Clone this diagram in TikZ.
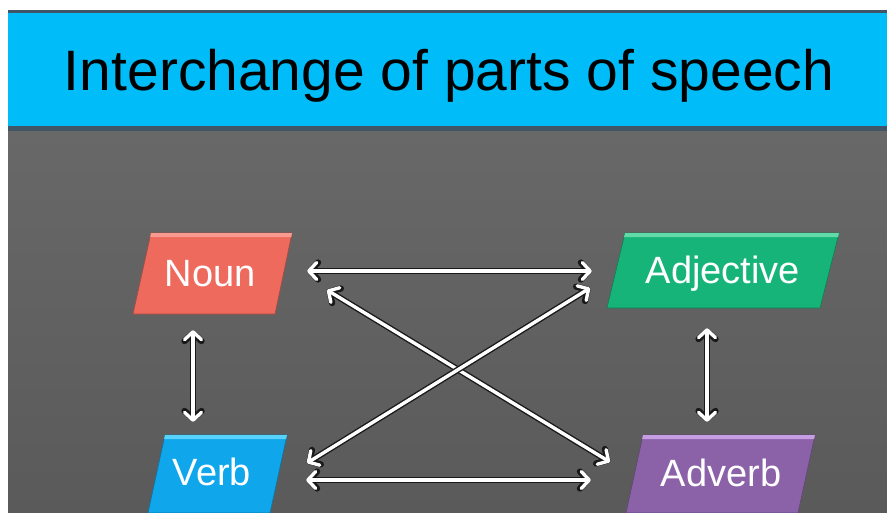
\documentclass[tikz,border=0pt]{standalone}
\usepackage{fontspec}
\setmainfont{Liberation Sans}
\usetikzlibrary{arrows.meta}
\definecolor{bandc}{HTML}{00BCF8}
\definecolor{bandedge}{HTML}{3E5666}
\definecolor{graytop}{HTML}{686868}
\definecolor{graybot}{HTML}{5A5A5A}
\definecolor{nounc}{HTML}{EE6A5D}
\definecolor{nounl}{HTML}{F89A90}
\definecolor{adjc}{HTML}{17B47A}
\definecolor{adjl}{HTML}{62DAA8}
\definecolor{verbc}{HTML}{10A6EC}
\definecolor{verbl}{HTML}{58D2F8}
\definecolor{advc}{HTML}{8B62A8}
\definecolor{advl}{HTML}{C59DE2}
\begin{document}
\begin{tikzpicture}[x=1pt,y=-1pt,
  tipb/.tip={Straight Barb[length=8pt,width=17pt,round]},
  arr/.style={draw=white, line width=3.4pt, tipb-tipb,
    preaction={draw=black!90, line width=6.2pt}},
  lbl/.style={text=white, font=\fontsize{38}{38}\selectfont, anchor=base, inner sep=0pt},
  ttl/.style={text=black, font=\fontsize{57}{57}\selectfont, anchor=base, inner sep=0pt}]
\useasboundingbox (0,0) rectangle (887,512);
\fill[white] (0,0) rectangle (887,512);
% background
\shade[top color=graytop, bottom color=graybot] (8,131) rectangle (887,512);
\fill[bandedge] (8,9.5) rectangle (887,13);
\fill[bandc] (8,13) rectangle (887,126);
\fill[bandedge] (8,126) rectangle (887,131);
\node[ttl] (title) at (449,90) {Interchange of parts of speech};
% parallelograms
\fill[nounc, draw=nounc!70!black, line width=0.6pt] (151,233) -- (292,233) -- (275,314) -- (133,314) -- cycle;
\fill[nounl] (151,233) -- (292,233) -- (291.2,237) -- (150.2,237) -- cycle;
\fill[adjc, draw=adjc!70!black, line width=0.6pt] (625,233) -- (839,233) -- (820,308) -- (607,308) -- cycle;
\fill[adjl] (625,233) -- (839,233) -- (838,237) -- (624,237) -- cycle;
\fill[verbc, draw=verbc!70!black, line width=0.6pt] (165,435) -- (287,435) -- (270,513) -- (148,513) -- cycle;
\fill[verbl] (165,435) -- (287,435) -- (286.1,439) -- (164.1,439) -- cycle;
\fill[advc, draw=advc!70!black, line width=0.6pt] (643,435) -- (815,435) -- (798,513) -- (626,513) -- cycle;
\fill[advl] (643,435) -- (815,435) -- (814.1,439) -- (642.1,439) -- cycle;
% labels
\node[lbl] (noun) at (210,286) {Noun};
\node[lbl] (adj) at (723,283) {Adjective};
\node[lbl] (verb) at (212,485) {Verb};
\node[lbl] (adv) at (721,486) {Adverb};
% connector ends
\coordinate (na1) at (307,271); \coordinate (na2) at (592,271);
\coordinate (va1) at (306,480); \coordinate (va2) at (591,480);
\coordinate (nd1) at (327,290); \coordinate (nd2) at (610,462);
\coordinate (av1) at (590,288); \coordinate (av2) at (307,463);
\coordinate (nv1) at (193,330); \coordinate (nv2) at (193,422);
\coordinate (ad1) at (707,328); \coordinate (ad2) at (707,422);
\draw[arr] (na1) -- (na2);
\draw[arr] (va1) -- (va2);
\draw[arr] (nd1) -- (nd2);
\draw[arr] (av1) -- (av2);
\draw[arr] (nv1) -- (nv2);
\draw[arr] (ad1) -- (ad2);
\end{tikzpicture}
\end{document}
